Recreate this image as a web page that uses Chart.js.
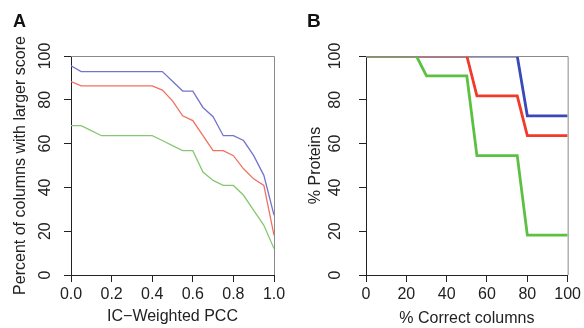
<!DOCTYPE html>
<html>
<head>
<meta charset="utf-8">
<script src="https://cdn.jsdelivr.net/npm/chart.js@4/dist/chart.umd.min.js"></script>
<style>
html,body{margin:0;padding:0;background:#fff;}
#wrap{position:relative;width:584px;height:328px;}
.c{position:absolute;top:0;width:292px;height:328px;}
</style>
</head>
<body>
<div id="wrap">
  <div class="c" style="left:0"><canvas id="ca"></canvas></div>
  <div class="c" style="left:292px"><canvas id="cb"></canvas></div>
</div>
<script>
// Panel A data
const xA = [0,0.05,0.1,0.15,0.2,0.25,0.3,0.35,0.4,0.45,0.5,0.55,0.6,0.65,0.7,0.75,0.8,0.85,0.9,0.95,1.0];
const blueA  = [95.5,92.9,92.9,92.9,92.9,92.9,92.9,92.9,92.9,92.9,88.5,84.0,84.0,76.5,72.3,63.6,63.6,61.4,54.5,45.5,27.3];
const redA   = [88.3,86.4,86.4,86.4,86.4,86.4,86.4,86.4,86.4,84.4,79.5,72.7,70.5,63.6,56.8,56.8,54.5,48.5,43.9,40.9,18.2];
const greenA = [68.2,68.2,65.9,63.6,63.6,63.6,63.6,63.6,63.6,61.4,59.1,56.8,56.8,47.0,43.2,40.9,40.9,36.4,29.5,22.7,12.1];
// Panel B data
const xB = [0,5,10,15,20,25,30,35,40,45,50,55,60,65,70,75,80,85,90,95,100];
const blueB  = [100,100,100,100,100,100,100,100,100,100,100,100,100,100,100,100,72.7,72.7,72.7,72.7,72.7];
const redB   = [100,100,100,100,100,100,100,100,100,100,100,81.8,81.8,81.8,81.8,81.8,63.6,63.6,63.6,63.6,63.6];
const greenB = [100,100,100,100,100,100,90.9,90.9,90.9,90.9,90.9,54.5,54.5,54.5,54.5,54.5,18.2,18.2,18.2,18.2,18.2];
const yTicks = [0,20,40,60,80,100];

const FONT = "'Liberation Sans', Arial, Helvetica, sans-serif";
const INK = '#222';

function pts(xs, ys){ return xs.map((x,i)=>({x:x,y:ys[i]})); }

function panelPlugin(letter, lx, size){
  return {
    id:'panel'+letter,
    afterDraw(chart){
      const {ctx, chartArea:a} = chart;
      ctx.save();
      ctx.strokeStyle = '#8a8a8a';
      ctx.lineWidth = 1;
      ctx.beginPath();
      ctx.moveTo(a.left, a.top+0.5);
      ctx.lineTo(a.right+0.5, a.top+0.5);
      ctx.lineTo(a.right+0.5, a.bottom);
      ctx.stroke();
      ctx.fillStyle = '#111';
      ctx.font = 'bold '+size+'px '+FONT;
      ctx.textBaseline = 'alphabetic';
      ctx.fillText(letter, lx, 27);
      ctx.restore();
    }
  };
}

function makeChart(id, cfg){
  const ds = cfg.series.map(s=>({
    data: pts(cfg.xs, s.y),
    borderColor: s.c,
    borderWidth: cfg.lw,
    pointRadius: 0,
    tension: 0,
    fill: false
  }));
  return new Chart(document.getElementById(id), {
    type:'line',
    data:{datasets:ds},
    options:{
      responsive:false,
      animation:false,
      events:[],
      layout:{padding:{left:0, top:56, right:cfg.padR, bottom:0}},
      plugins:{legend:{display:false}, tooltip:{enabled:false}, title:{display:false}},
      scales:{
        x:{
          type:'linear', min:cfg.xmin, max:cfg.xmax,
          afterBuildTicks(s){ s.ticks = cfg.xTicks.map(v=>({value:v})); },
          afterFit(s){ s.height = 53; },
          grid:{display:true, drawOnChartArea:false, drawTicks:true, tickLength:7, color:INK, lineWidth:1},
          border:{display:true, color:INK, width:1},
          ticks:{color:INK, font:{family:FONT, size:16}, padding:3, maxRotation:0, autoSkip:false,
                 callback:cfg.xfmt},
          title:{display:true, text:cfg.xTitle, color:INK, font:{family:FONT, size:16}, padding:{top:0,bottom:cfg.xTitlePad}}
        },
        y:{
          type:'linear', min:0, max:100,
          afterBuildTicks(s){ s.ticks = yTicks.map(v=>({value:v})); },
          afterFit(s){ s.width = cfg.yw; },
          grid:{display:true, drawOnChartArea:false, drawTicks:true, tickLength:7, color:INK, lineWidth:1},
          border:{display:true, color:INK, width:1},
          ticks:{color:INK, font:{family:FONT, size:16}, padding:cfg.yTickPad, minRotation:90, maxRotation:90,
                 crossAlign:'center', autoSkip:false},
          title:{display:true, text:cfg.yTitle, color:INK, font:{family:FONT, size:16}, padding:{top:cfg.yTitlePad,bottom:0}}
        }
      }
    },
    plugins:[panelPlugin(cfg.letter, cfg.lx, cfg.lsize)]
  });
}

const cA = document.getElementById('ca'); cA.width=292; cA.height=328;
const cB = document.getElementById('cb'); cB.width=292; cB.height=328;

makeChart('ca', {
  xs:xA, xmin:0, xmax:1, xTicks:[0,0.2,0.4,0.6,0.8,1.0], xfmt:v=>Number(v).toFixed(1),
  series:[{y:greenA,c:'#86c872'},{y:redA,c:'#f2705e'},{y:blueA,c:'#7474cc'}],
  lw:1.3, padR:18, yw:71, yTickPad:5, yTitlePad:11, xTitlePad:2,
  xTitle:'IC\u2212Weighted PCC', yTitle:'Percent of columns with larger score',
  letter:'A', lx:13, lsize:18
});
makeChart('cb', {
  xs:xB, xmin:0, xmax:100, xTicks:[0,20,40,60,80,100], xfmt:v=>String(v),
  series:[{y:greenB,c:'#5cc040'},{y:redB,c:'#f23a2a'},{y:blueB,c:'#3a48b8'}],
  lw:2.8, padR:15, yw:74, yTickPad:10, yTitlePad:14, xTitlePad:0,
  xTitle:'% Correct columns', yTitle:'% Proteins',
  letter:'B', lx:15, lsize:19
});
</script>
</body>
</html>
